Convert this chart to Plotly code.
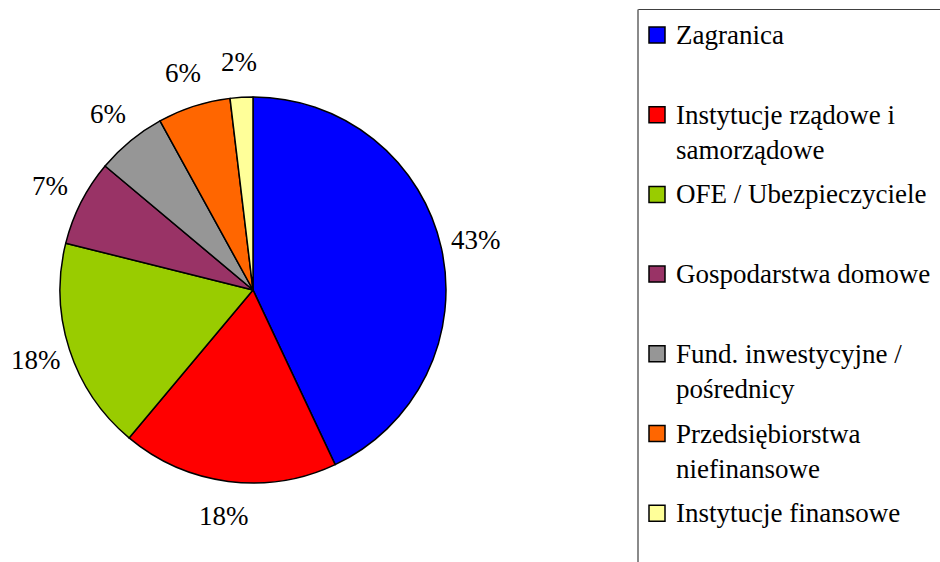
import math
import plotly.graph_objects as go

# Data
categories = ["Zagranica", "Instytucje rządowe i samorządowe", "OFE / Ubezpieczyciele",
              "Gospodarstwa domowe", "Fund. inwestycyjne / pośrednicy",
              "Przedsiębiorstwa niefinansowe", "Instytucje finansowe"]
legend_labels = ["Zagranica", "Instytucje rządowe i<br>samorządowe", "OFE / Ubezpieczyciele",
                 "Gospodarstwa domowe", "Fund. inwestycyjne /<br>pośrednicy",
                 "Przedsiębiorstwa<br>niefinansowe", "Instytucje finansowe"]
shares = [43.0, 18.1, 17.8, 7.2, 5.9, 6.1, 1.9]
colors = ["#0000FF", "#FF0000", "#99CC00", "#993366", "#969696", "#FF6600", "#FFFF99"]

W, H = 940, 562
FONT = "Liberation Serif"

cx, cy, r = 253, 290, 193
label_r = r + 35

fig = go.Figure(go.Pie(
    labels=categories,
    values=shares,
    sort=False,
    direction="clockwise",
    rotation=0,
    marker=dict(colors=colors, line=dict(color="black", width=1.5)),
    textinfo="none",
    hoverinfo="label+percent",
    domain=dict(x=[(cx - r) / W, (cx + r) / W], y=[1 - (cy + r) / H, 1 - (cy - r) / H]),
    showlegend=False,
))

shapes = []
annotations = []

# percentage labels outside each slice, at its mid-angle
total = sum(shares)
cum = 0.0
for s in shares:
    mid = (cum + s / 2) / total * 2 * math.pi
    cum += s
    px = cx + label_r * math.sin(mid)
    py = cy - label_r * math.cos(mid)
    annotations.append(dict(xref="paper", yref="paper", x=px / W, y=1 - py / H,
                            xanchor="center", yanchor="middle",
                            text=f"{round(s / total * 100)}%", showarrow=False,
                            font=dict(family=FONT, size=27, color="black")))

# legend frame
shapes.append(dict(type="line", xref="paper", yref="paper", x0=638 / W, x1=1.05,
                   y0=1 - 9.5 / H, y1=1 - 9.5 / H, line=dict(color="#404040", width=1.2)))
shapes.append(dict(type="line", xref="paper", yref="paper", x0=638 / W, x1=638 / W,
                   y0=1 - 9.5 / H, y1=-0.05, line=dict(color="#8a8a8a", width=2)))

for i, (lab, col) in enumerate(zip(legend_labels, colors)):
    yc = 35 + 79.7 * i
    shapes.append(dict(type="rect", xref="paper", yref="paper",
                       x0=649 / W, x1=665 / W, y0=1 - (yc + 8) / H, y1=1 - (yc - 8) / H,
                       fillcolor=col, line=dict(color="black", width=1.5)))
    nlines = lab.count("<br>") + 1
    ymid = yc + (nlines - 1) * 35 / 2
    annotations.append(dict(xref="paper", yref="paper", x=674 / W, y=1 - ymid / H,
                            xanchor="left", yanchor="middle", align="left",
                            text=lab, showarrow=False,
                            font=dict(family=FONT, size=27, color="black")))

fig.update_layout(
    width=W, height=H,
    margin=dict(l=0, r=0, t=0, b=0),
    paper_bgcolor="white", plot_bgcolor="white",
    font=dict(family=FONT),
    shapes=shapes, annotations=annotations,
)

fig.write_html("out.html", config={"displayModeBar": False},
               post_script="document.body.style.margin='0';document.body.style.overflow='hidden';")
